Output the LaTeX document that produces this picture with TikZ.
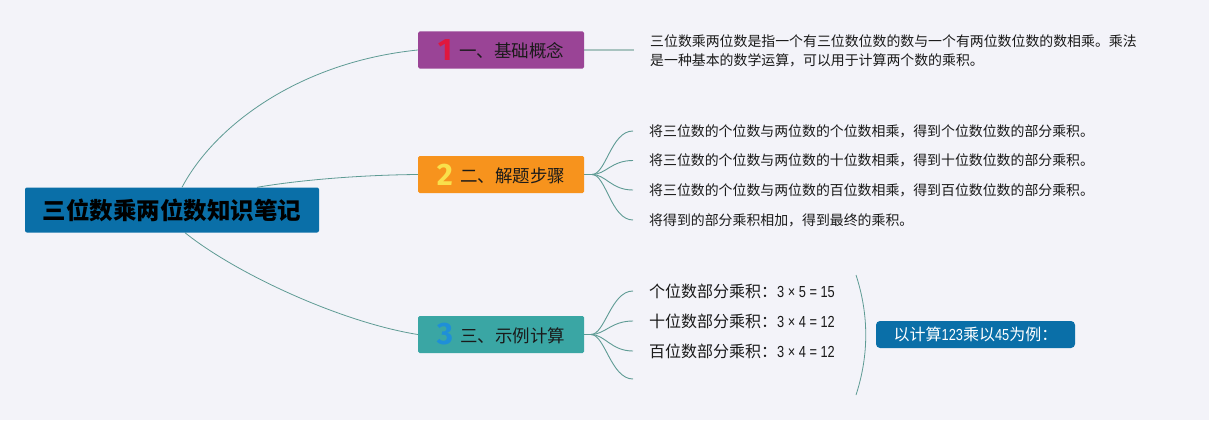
\documentclass[tikz,border=0pt]{standalone}
\usepackage{fontspec}
\setmainfont{Noto Sans CJK SC}
\newfontfamily\numf{Liberation Sans}[FakeStretch=0.8]
\newfontfamily\digf{Fira Sans}
\usetikzlibrary{backgrounds}
\definecolor{bgc}{HTML}{F3F3F9}
\definecolor{rootblue}{HTML}{0A6FA8}
\definecolor{cpurple}{HTML}{9A4496}
\definecolor{corange}{HTML}{F7931D}
\definecolor{cteal}{HTML}{3AA6A4}
\definecolor{cred}{HTML}{E0173E}
\definecolor{cyellow}{HTML}{F9E04B}
\definecolor{cblue}{HTML}{1F8FD8}
\definecolor{linec}{HTML}{5E9B94}
\definecolor{lightlinec}{HTML}{A8C3C0}
\definecolor{txtc}{HTML}{1A1A1A}
\newcommand\bignum[2]{{\digf\bfseries\fontsize{31}{31}\selectfont\textcolor{#1}{\raisebox{-2.5pt}{#2}}}\hspace{7pt}}
\tikzset{
  rootbox/.style={fill=rootblue, rounded corners=2pt, minimum width=294pt, minimum height=45pt, inner sep=0pt,
    text=black, font=\fontsize{23.5}{24}\selectfont\bfseries},
  topicbox/.style={rounded corners=1.5pt, minimum width=166pt, minimum height=37pt, inner sep=0pt,
    text=txtc, font=\fontsize{17.5}{18}\selectfont},
  desctxt/.style={anchor=west, inner sep=0pt, text=txtc, align=left, font=\fontsize{13.9}{19}\selectfont},
  exatxt/.style={anchor=west, inner sep=0pt, text=txtc, font=\fontsize{16}{18}\selectfont},
  sumbox/.style={fill=rootblue, rounded corners=4pt, minimum width=199pt, minimum height=27pt, inner sep=0pt,
    text=white, font=\fontsize{16}{18}\selectfont},
  mainline/.style={draw=linec, line width=0.8pt},
  branchline/.style={draw=linec, line width=0.9pt},
  lightline/.style={draw=lightlinec, line width=1.5pt},
}
\begin{document}
\begin{tikzpicture}[x=1pt,y=-1pt]
\useasboundingbox (0,0) rectangle (1209,420);
% main nodes
\node[rootbox] (root) at (172,210) {三位数乘两位数知识笔记};
\node[topicbox, fill=cpurple] (t1) at (501,50) {\bignum{cred}{1}一、基础概念};
\node[topicbox, fill=corange] (t2) at (501,174.5) {\bignum{cyellow}{2}二、解题步骤};
\node[topicbox, fill=cteal] (t3) at (501,334.5) {\bignum{cblue}{3}三、示例计算};
% texts
\node[desctxt] (d1) at (650,51) {三位数乘两位数是指一个有三位数位数的数与一个有两位数位数的数相乘。乘法\\是一种基本的数学运算，可以用于计算两个数的乘积。};
\node[desctxt] (s1) at (649,131) {将三位数的个位数与两位数的个位数相乘，得到个位数位数的部分乘积。};
\node[desctxt] (s2) at (649,160.5) {将三位数的个位数与两位数的十位数相乘，得到十位数位数的部分乘积。};
\node[desctxt] (s3) at (649,190) {将三位数的个位数与两位数的百位数相乘，得到百位数位数的部分乘积。};
\node[desctxt] (s4) at (649,220) {将得到的部分乘积相加，得到最终的乘积。};
\node[exatxt] (e1) at (649,291) {个位数部分乘积：{\numf 3 × 5 = 15}};
\node[exatxt] (e2) at (649,321) {十位数部分乘积：{\numf 3 × 4 = 12}};
\node[exatxt] (e3) at (649,351) {百位数部分乘积：{\numf 3 × 4 = 12}};
\node[sumbox] (sum) at (975.5,334.5) {以计算{\numf 123}乘以{\numf 45}为例：};
% coordinates
\coordinate (l1) at (634,50);
\coordinate (j2) at (592,174.5);
\coordinate (j3) at (591,334.5);
\coordinate (b34) at (633,379);
\coordinate (br1) at (856,275);
\coordinate (br2) at (856,395);
\begin{scope}[on background layer]
  \fill[bgc] (0,0) rectangle (1209,420);
  \draw[mainline] ([xshift=10pt]root.north) .. controls (215,125) and (300,62) .. (t1.west);
  \draw[mainline] ([xshift=85pt]root.north) .. controls (300,180) and (360,175) .. (t2.west);
  \draw[mainline] ([xshift=13pt]root.south) .. controls (235,273) and (340,322) .. (t3.west);
  \draw[lightline] (t1.east) -- (l1);
  \draw[branchline] (t2.east) -- (j2);
  \foreach \s in {s1,s2,s3,s4}{
    \draw[branchline] (j2) .. controls +(14,0) and +(-22,0) .. ([xshift=-16pt]\s.west);
  }
  \draw[branchline] (t3.east) -- (j3);
  \foreach \s in {e1,e2,e3}{
    \draw[branchline] (j3) .. controls +(14,0) and +(-22,0) .. ([xshift=-16pt]\s.west);
  }
  \draw[branchline] (j3) .. controls +(14,0) and +(-22,0) .. (b34);
  \draw[mainline] (br1) .. controls (869,315) and (869,355) .. (br2);
\end{scope}
\end{tikzpicture}
\end{document}
